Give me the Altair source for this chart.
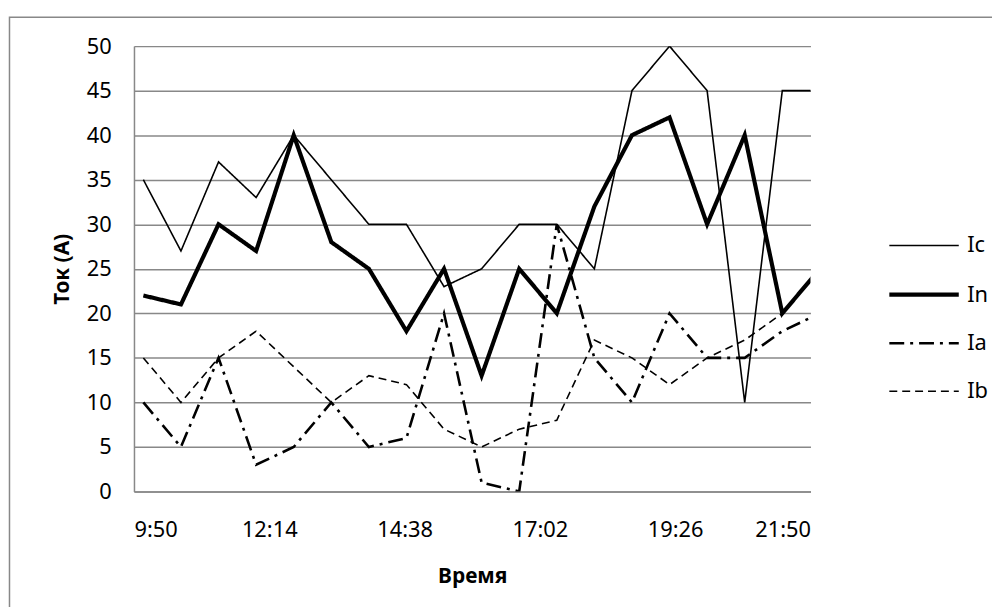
import altair as alt
import pandas as pd

times = ["10:00", "10:40", "11:20", "12:00", "12:40", "13:20", "14:00", "14:40",
         "15:20", "16:00", "16:40", "17:20", "18:00", "18:40", "19:20", "20:00",
         "20:40", "21:20", "22:00"]
Ic = [35, 27, 37, 33, 40, 35, 30, 30, 23, 25, 30, 30, 25, 45, 50, 45, 10, 45, 45]
In = [22, 21, 30, 27, 40, 28, 25, 18, 25, 13, 25, 20, 32, 40, 42, 30, 40, 20, 25]
Ia = [10, 5, 15, 3, 5, 10, 5, 6, 20, 1, 0, 30, 15, 10, 20, 15, 15, 18, 20]
Ib = [15, 10, 15, 18, 14, 10, 13, 12, 7, 5, 7, 8, 17, 15, 12, 15, 17, 20, None]

series_names = ["Ic", "In", "Ia", "Ib"]
x_ticks = ["9:50", "12:14", "14:38", "17:02", "19:26", "21:50"]
y_ticks = [0, 5, 10, 15, 20, 25, 30, 35, 40, 45, 50]


def to_min(t):
    h, m = t.split(":")
    return int(h) * 60 + int(m)


rows = []
for name, vals in zip(series_names, [Ic, In, Ia, Ib]):
    for t, v in zip(times, vals):
        if v is not None:
            rows.append({"t": to_min(t), "v": v, "series": name})
df = pd.DataFrame(rows)

tick_vals = [to_min(t) for t in x_ticks]
FONT = "Noto Sans"

label_expr = "floor(datum.value/60) + ':' + (datum.value % 60 < 10 ? '0' : '') + (datum.value % 60)"

lines = alt.Chart(df).mark_line(clip=True, color="black", strokeJoin="miter", strokeCap="butt").encode(
    x=alt.X("t:Q", scale=alt.Scale(domain=[tick_vals[0], tick_vals[-1]], nice=False, zero=False),
            axis=alt.Axis(values=tick_vals, labelExpr=label_expr, title="Время", grid=False,
                          ticks=False, labelPadding=28, titlePadding=26, domainColor="#888888",
                          domainWidth=1.5)),
    y=alt.Y("v:Q", scale=alt.Scale(domain=[0, 50], nice=False),
            axis=alt.Axis(values=y_ticks, title="Ток (А)", ticks=False, labelPadding=23,
                          titlePadding=14, gridColor="#888888", gridWidth=1.5,
                          domainColor="#888888", domainWidth=1.5)),
    strokeDash=alt.StrokeDash("series:N", scale=alt.Scale(domain=series_names,
                              range=[[1, 0], [1, 0], [15, 6, 3, 6], [8, 5]]), title=None),
    strokeWidth=alt.StrokeWidth("series:N", scale=alt.Scale(type="ordinal", domain=series_names,
                                range=[1.6, 4.2, 2.6, 1.6]), title=None),
    detail="series:N",
)

border = alt.Chart(pd.DataFrame({"a": [0]})).mark_rect(fill=None, stroke="#888888", strokeWidth=1.5).encode(
    x=alt.value(-125.5), x2=alt.value(900), y=alt.value(-29), y2=alt.value(700)
)

chart = alt.layer(border, lines).properties(
    width=682, height=449,
    autosize=alt.AutoSizeParams(type="none"),
    padding={"left": 127, "top": 36, "right": 183, "bottom": 114},
).configure_view(stroke=None).configure_axis(
    labelFont=FONT, titleFont=FONT, labelFontSize=22, titleFontSize=21,
    titleFontWeight="bold", labelColor="black", titleColor="black",
).configure_legend(
    orient="none", legendX=759, legendY=165, symbolType="stroke", symbolSize=4900,
    symbolStrokeColor="black", labelFont=FONT, labelFontSize=22, labelColor="black",
    rowPadding=1, labelOffset=6, padding=0,
)

chart.save("out.html", embed_options={"renderer": "svg", "actions": False})
